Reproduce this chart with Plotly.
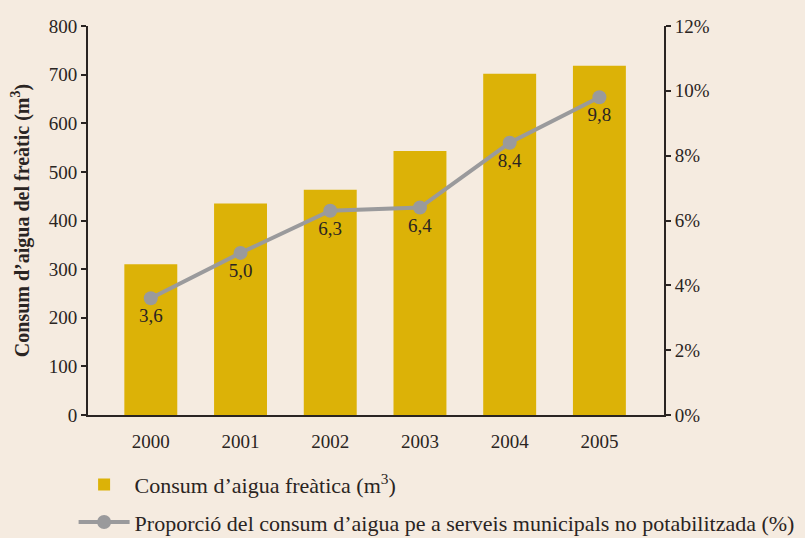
import plotly.graph_objects as go

years = ["2000", "2001", "2002", "2003", "2004", "2005"]
consum = [310, 435, 463, 543, 702, 718]
proporcio = [3.6, 5.0, 6.3, 6.4, 8.4, 9.8]
prop_labels = ["3,6", "5,0", "6,3", "6,4", "8,4", "9,8"]
left_ticks = [0, 100, 200, 300, 400, 500, 600, 700, 800]
right_ticks = [0, 2, 4, 6, 8, 10, 12]
right_labels = ["0%", "2%", "4%", "6%", "8%", "10%", "12%"]

BG = "#f5ebe0"
GOLD = "#dcb207"
GREY = "#9a9a9c"
INK = "#2a2422"
FONT = "Liberation Serif"

fig = go.Figure()
fig.add_trace(go.Bar(
    x=years, y=consum, name="Consum d’aigua freàtica (m<sup>3</sup>)",
    marker=dict(color=GOLD, line=dict(width=0)), yaxis="y", legendgroup="a",
))
fig.add_trace(go.Scatter(
    x=years, y=proporcio, name="Proporció del consum d’aigua pe a serveis municipals no potabilitzada (%)",
    mode="lines+markers+text", text=prop_labels, textposition="bottom center",
    textfont=dict(size=19, color=INK, family=FONT),
    line=dict(color=GREY, width=4), marker=dict(color=GREY, size=14),
    yaxis="y2", legendgroup="b",
))

fig.update_layout(
    width=805, height=538,
    paper_bgcolor=BG, plot_bgcolor=BG,
    font=dict(family=FONT, size=19, color=INK),
    margin=dict(l=88, r=141, t=26, b=123, autoexpand=False),
    bargap=0.41,
    showlegend=True,
    legend=dict(
        orientation="v", x=-0.025, xanchor="left", y=-0.125, yanchor="top",
        font=dict(size=22, color=INK, family=FONT), bgcolor="rgba(0,0,0,0)",
        traceorder="grouped", tracegroupgap=6, itemwidth=51,
    ),
    xaxis=dict(
        type="category", range=[-0.7, 5.72], showgrid=False,
        showline=True, linecolor=INK, linewidth=2, ticks="", tickfont=dict(size=19),
        ticklabelstandoff=8,
    ),
    yaxis=dict(
        range=[0, 800], tickvals=left_ticks, showgrid=False, zeroline=False,
        showline=True, linecolor=INK, linewidth=2, ticks="outside", ticklen=5,
        tickcolor=INK, tickwidth=2, tickfont=dict(size=19),
        title=dict(text="<b>Consum d’aigua del freàtic (m<sup>3</sup>)</b>", font=dict(size=20), standoff=14),
    ),
    yaxis2=dict(
        range=[0, 12], tickvals=right_ticks, ticktext=right_labels, overlaying="y", side="right",
        showgrid=False, zeroline=False, showline=True, linecolor=INK, linewidth=2,
        ticks="outside", ticklen=5, tickcolor=INK, tickwidth=2, tickfont=dict(size=19),
    ),
)

fig.write_html("out.html", config={"displayModeBar": False})
with open("out.html", encoding="utf-8") as f:
    html = f.read()
html = html.replace("<head>", "<head><style>html,body{margin:0;padding:0;background:%s;}</style>" % BG, 1)
with open("out.html", "w", encoding="utf-8") as f:
    f.write(html)
